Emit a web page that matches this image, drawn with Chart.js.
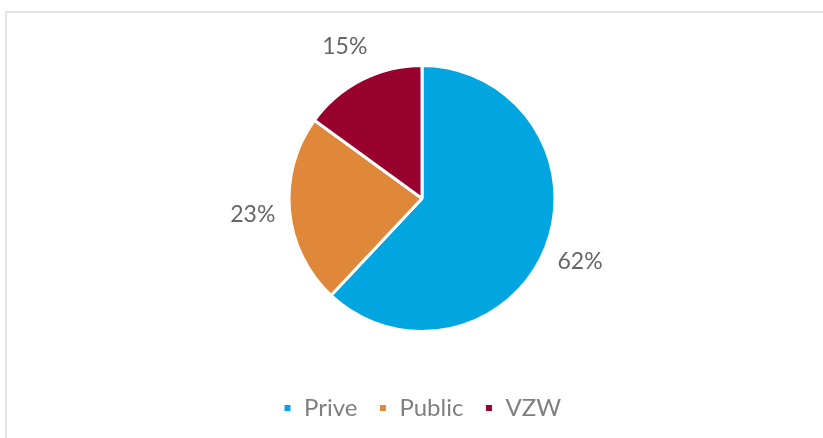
<!DOCTYPE html>
<html><head><meta charset="utf-8">
<script src="https://cdn.jsdelivr.net/npm/chart.js@4"></script>
<style>
html,body{margin:0;padding:0;background:#fff;overflow:hidden;}
#frame{position:absolute;left:5px;top:11px;width:900px;height:500px;border:2px solid #e3e3e3;box-sizing:border-box;}
#wrap{position:absolute;left:0;top:0;width:823px;height:438px;}
</style></head>
<body>
<div id="frame"></div>
<div id="wrap"><canvas id="c" width="823" height="438"></canvas></div>
<script>
const categories = ['Prive', 'Public', 'VZW'];
const values = [62, 23, 15];
const colors = ['#01A6E0', '#E08839', '#98002E'];

const labelPlugin = {
  id: 'outLabels',
  afterDatasetsDraw(chart) {
    const ctx = chart.ctx;
    const meta = chart.getDatasetMeta(0);
    ctx.save();
    ctx.font = '23px Lato';
    ctx.fillStyle = '#666666';
    ctx.textAlign = 'center';
    ctx.textBaseline = 'middle';
    meta.data.forEach((arc, i) => {
      const p = arc.getProps(['x','y','startAngle','endAngle','outerRadius'], true);
      const mid = (p.startAngle + p.endAngle) / 2;
      const r = p.outerRadius + 37;
      ctx.fillText(values[i] + '%', p.x + Math.cos(mid) * r, p.y + Math.sin(mid) * r);
    });
    ctx.restore();
  }
};

new Chart(document.getElementById('c'), {
  type: 'pie',
  data: {
    labels: categories,
    datasets: [{
      data: values,
      backgroundColor: colors,
      borderColor: '#ffffff',
      borderWidth: 3,
      radius: 133
    }]
  },
  options: {
    responsive: false,
    animation: false,
    layout: { padding: { top: 22, left: 21, right: 0, bottom: 8 } },
    plugins: {
      legend: {
        position: 'bottom',
        labels: {
          boxWidth: 9, boxHeight: 9, padding: 21,
          color: '#7f7f7f',
          font: { family: 'Lato', size: 24 }
        }
      },
      tooltip: { enabled: false }
    }
  },
  plugins: [labelPlugin]
});
</script>
</body></html>
